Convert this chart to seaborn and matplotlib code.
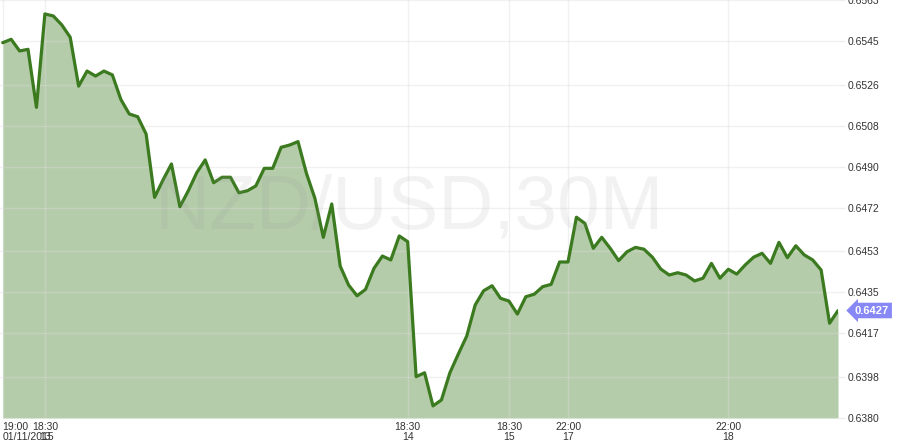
import numpy as np
import pandas as pd
import seaborn as sns
import matplotlib.pyplot as plt

# NZD/USD 30 minute closes
prices = [
    0.65443, 0.65458, 0.65407, 0.65414, 0.65160, 0.65569, 0.65560, 0.65521, 0.65467, 0.65253,
    0.65319, 0.65297, 0.65319, 0.65302, 0.65195, 0.65131, 0.65119, 0.65043, 0.64766, 0.64842,
    0.64912, 0.64725, 0.64795, 0.64874, 0.64930, 0.64830, 0.64854, 0.64854, 0.64786, 0.64795,
    0.64816, 0.64893, 0.64893, 0.64985, 0.64995, 0.65010, 0.64871, 0.64762, 0.64591, 0.64737,
    0.64465, 0.64382, 0.64335, 0.64363, 0.64455, 0.64509, 0.64492, 0.64597, 0.64572, 0.63981,
    0.63998, 0.63853, 0.63879, 0.63998, 0.64080, 0.64159, 0.64295, 0.64357, 0.64379, 0.64324,
    0.64312, 0.64255, 0.64331, 0.64342, 0.64375, 0.64385, 0.64483, 0.64483, 0.64679, 0.64652,
    0.64543, 0.64591, 0.64543, 0.64489, 0.64528, 0.64547, 0.64539, 0.64504, 0.64452, 0.64426,
    0.64436, 0.64426, 0.64400, 0.64412, 0.64477, 0.64412, 0.64451, 0.64430, 0.64470, 0.64504,
    0.64521, 0.64477, 0.64569, 0.64502, 0.64554, 0.64514, 0.64492, 0.64448, 0.64215, 0.64270,
]
x_tick_bars = [0, 5, 48, 60, 67, 86]
x_tick_labels = ["19:00\n01/11/2015", "18:30\n13", "18:30\n14", "18:30\n15", "22:00\n17", "22:00\n18"]
y_tick_values = [0.6380, 0.6398, 0.6417, 0.6435, 0.6453, 0.6472, 0.6490, 0.6508, 0.6526, 0.6545, 0.6563]
last_price = "0.6427"
title = "NZD/USD,30M"

df = pd.DataFrame({"bar": np.arange(len(prices)), "price": prices})

sns.set_theme(style="white", rc={"axes.facecolor": "white", "figure.facecolor": "white"})
plt.rcParams["font.family"] = ["Liberation Sans", "DejaVu Sans"]

fig = plt.figure(figsize=(9, 4.48), dpi=100)
ax = fig.add_axes([0.0, 30 / 448, 838 / 900, 418 / 448])

y_min, y_max = y_tick_values[0], y_tick_values[-1]

# watermark
ax.text(0.489, 0.5, title, transform=ax.transAxes, ha="center", va="center",
        fontsize=55, color="#999999", alpha=0.12, zorder=4)

ax.fill_between(df["bar"], df["price"], y_min, color="#b4cca9", linewidth=0, zorder=2)
sns.lineplot(data=df, x="bar", y="price", ax=ax, color="#3b7a1f", linewidth=2.3, zorder=3)

ax.set_xlim(-0.32, len(prices) - 1)
ax.set_ylim(y_min, y_max)

ax.set_xticks(x_tick_bars)
ax.set_xticklabels(x_tick_labels, linespacing=0.95)
ax.get_xticklabels()[0].set_horizontalalignment("left")
ax.get_xticklabels()[0].set_x(-0.32)

ax.yaxis.tick_right()
ax.set_yticks(y_tick_values)
ax.set_yticklabels([f"{v:.4f}" for v in y_tick_values])

ax.tick_params(axis="x", length=0, pad=3, labelsize=7.5, labelcolor="#333333")
ax.tick_params(axis="y", length=5, width=1, color="#eeeeee", pad=2, labelsize=7.5,
               labelcolor="#333333", right=True)

ax.grid(True, color="#dddddd", alpha=0.4, linewidth=1)
ax.set_axisbelow(False)
for sp in ax.spines.values():
    sp.set_visible(False)
ax.set_xlabel("")
ax.set_ylabel("")

# last price tag
fig.text(872 / 900, 1 - 310.5 / 448, last_price, ha="center", va="center", fontsize=8,
         fontweight="bold", color="white",
         bbox=dict(boxstyle="larrow,pad=0.25", facecolor="#8787f5", edgecolor="none"))

fig.savefig("out.png", dpi=100)
